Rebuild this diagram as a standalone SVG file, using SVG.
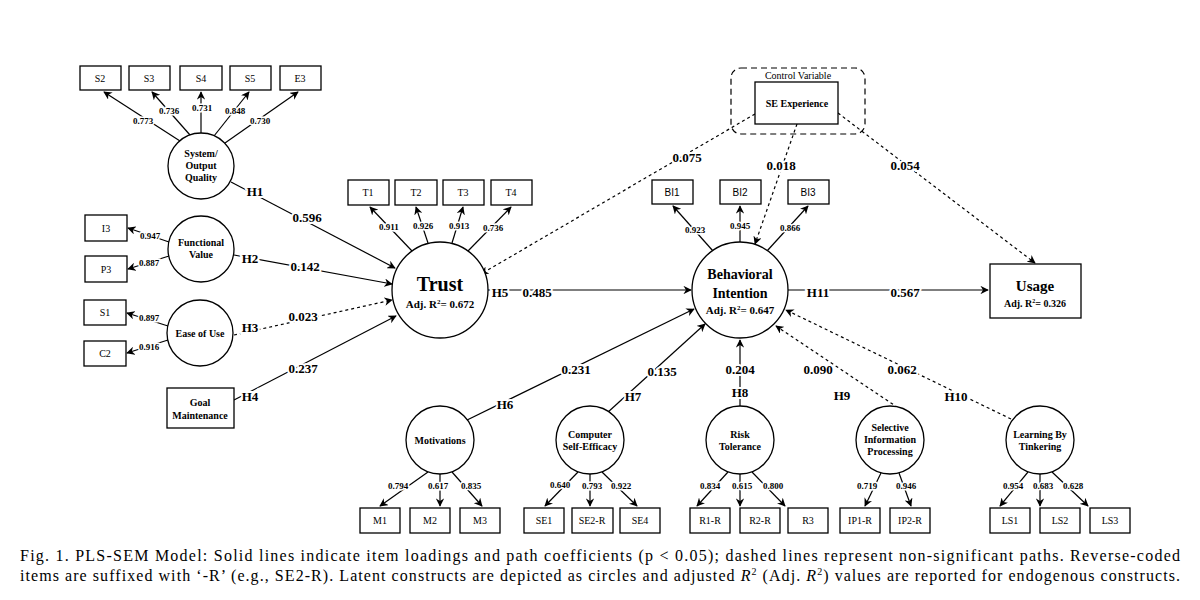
<svg xmlns="http://www.w3.org/2000/svg" width="1200" height="600" viewBox="0 0 1200 600">
<defs>
<marker id="a" viewBox="0 0 10 10" refX="9" refY="5" markerWidth="7" markerHeight="7" orient="auto"><path d="M0,0 L10,5 L0,10 L3,5 z" fill="#000"/></marker>
<style>
text{font-family:"Liberation Serif",serif;font-weight:bold;text-anchor:middle;fill:#000}
.b{fill:#fff;stroke:#000;stroke-width:1.3}
.c{fill:#fff;stroke:#000;stroke-width:1.3}
.l{stroke:#000;stroke-width:1.2;fill:none}
.d{stroke:#000;stroke-width:1.2;fill:none;stroke-dasharray:3,3}
.s{font-size:10px;font-weight:normal}
.ss{font-family:"Liberation Sans",sans-serif;font-size:10px;font-weight:normal}
.ld{font-size:9px;paint-order:stroke;stroke:#fff;stroke-width:3px}
.pl{font-size:13px;paint-order:stroke;stroke:#fff;stroke-width:4px}
.n{font-size:10px}
.cap{font-weight:normal;text-anchor:start;font-size:16px}
</style>
</defs>
<g id="connectors">
<line class="l" x1="180" y1="141" x2="104" y2="92" marker-end="url(#a)"/>
<line class="l" x1="190" y1="135" x2="152" y2="92" marker-end="url(#a)"/>
<line class="l" x1="201" y1="133" x2="201" y2="92" marker-end="url(#a)"/>
<line class="l" x1="214" y1="136" x2="249" y2="92" marker-end="url(#a)"/>
<line class="l" x1="225" y1="143" x2="298" y2="92" marker-end="url(#a)"/>
<line class="l" x1="169" y1="242" x2="128" y2="228" marker-end="url(#a)"/>
<line class="l" x1="169" y1="256" x2="128" y2="269" marker-end="url(#a)"/>
<line class="l" x1="168" y1="326" x2="127" y2="313" marker-end="url(#a)"/>
<line class="l" x1="168" y1="340" x2="127" y2="353" marker-end="url(#a)"/>
<line class="l" x1="412" y1="251" x2="370" y2="207" marker-end="url(#a)"/>
<line class="l" x1="428" y1="243" x2="416" y2="207" marker-end="url(#a)"/>
<line class="l" x1="452" y1="243" x2="463" y2="207" marker-end="url(#a)"/>
<line class="l" x1="468" y1="251" x2="511" y2="207" marker-end="url(#a)"/>
<line class="l" x1="713" y1="251" x2="673" y2="206" marker-end="url(#a)"/>
<line class="l" x1="740" y1="242" x2="740" y2="206" marker-end="url(#a)"/>
<line class="l" x1="767" y1="251" x2="808" y2="206" marker-end="url(#a)"/>
<line class="l" x1="231" y1="182" x2="395" y2="268" marker-end="url(#a)"/>
<line class="l" x1="234" y1="255" x2="392" y2="284" marker-end="url(#a)"/>
<line class="d" x1="234" y1="335" x2="392" y2="300" marker-end="url(#a)"/>
<line class="l" x1="234" y1="400" x2="396" y2="316" marker-end="url(#a)"/>
<line class="l" x1="488" y1="290" x2="691" y2="290" marker-end="url(#a)"/>
<line class="l" x1="788" y1="290" x2="988" y2="290" marker-end="url(#a)"/>
<line class="l" x1="463" y1="422" x2="694" y2="309" marker-end="url(#a)"/>
<line class="l" x1="607" y1="413" x2="705" y2="324" marker-end="url(#a)"/>
<line class="l" x1="740" y1="406" x2="740" y2="340" marker-end="url(#a)"/>
<line class="d" x1="903" y1="411" x2="776" y2="326" marker-end="url(#a)"/>
<line class="d" x1="1011" y1="419" x2="786" y2="310" marker-end="url(#a)"/>
<line class="d" x1="755" y1="114" x2="481" y2="274" marker-end="url(#a)"/>
<line class="d" x1="797" y1="124" x2="755" y2="244" marker-end="url(#a)"/>
<line class="d" x1="838" y1="113" x2="1035" y2="263" marker-end="url(#a)"/>
<line class="l" x1="428" y1="472" x2="380" y2="506" marker-end="url(#a)"/>
<line class="l" x1="440" y1="474" x2="440" y2="506" marker-end="url(#a)"/>
<line class="l" x1="452" y1="472" x2="482" y2="506" marker-end="url(#a)"/>
<line class="l" x1="578" y1="472" x2="545" y2="506" marker-end="url(#a)"/>
<line class="l" x1="590" y1="474" x2="590" y2="506" marker-end="url(#a)"/>
<line class="l" x1="602" y1="472" x2="637" y2="506" marker-end="url(#a)"/>
<line class="l" x1="728" y1="472" x2="697" y2="506" marker-end="url(#a)"/>
<line class="l" x1="740" y1="474" x2="740" y2="506" marker-end="url(#a)"/>
<line class="l" x1="752" y1="472" x2="785" y2="506" marker-end="url(#a)"/>
<line class="l" x1="881" y1="473" x2="865" y2="506" marker-end="url(#a)"/>
<line class="l" x1="899" y1="473" x2="911" y2="506" marker-end="url(#a)"/>
<line class="l" x1="1028" y1="472" x2="1000" y2="506" marker-end="url(#a)"/>
<line class="l" x1="1040" y1="474" x2="1040" y2="506" marker-end="url(#a)"/>
<line class="l" x1="1052" y1="472" x2="1088" y2="506" marker-end="url(#a)"/>
<text class="ld" x="143" y="124">0.773</text>
<text class="ld" x="169" y="114">0.736</text>
<text class="ld" x="202" y="111">0.731</text>
<text class="ld" x="235" y="114">0.848</text>
<text class="ld" x="260" y="124">0.730</text>
<text class="ld" x="150" y="239">0.947</text>
<text class="ld" x="149" y="266">0.887</text>
<text class="ld" x="149" y="321">0.897</text>
<text class="ld" x="149" y="350">0.916</text>
<text class="ld" x="389" y="230">0.911</text>
<text class="ld" x="423" y="229">0.926</text>
<text class="ld" x="459" y="229">0.913</text>
<text class="ld" x="493" y="231">0.736</text>
<text class="ld" x="695" y="233">0.923</text>
<text class="ld" x="740" y="229">0.945</text>
<text class="ld" x="790" y="231">0.866</text>
<text class="ld" x="398" y="489">0.794</text>
<text class="ld" x="438" y="489">0.617</text>
<text class="ld" x="471" y="489">0.835</text>
<text class="ld" x="560" y="488">0.640</text>
<text class="ld" x="592" y="489">0.793</text>
<text class="ld" x="621" y="489">0.922</text>
<text class="ld" x="710" y="489">0.834</text>
<text class="ld" x="742" y="489">0.615</text>
<text class="ld" x="773" y="489">0.800</text>
<text class="ld" x="867" y="489">0.719</text>
<text class="ld" x="906" y="489">0.946</text>
<text class="ld" x="1013" y="489">0.954</text>
<text class="ld" x="1043" y="489">0.683</text>
<text class="ld" x="1073" y="489">0.628</text>
<text class="pl" x="255" y="196">H1</text>
<text class="pl" x="307" y="222">0.596</text>
<text class="pl" x="250" y="263">H2</text>
<text class="pl" x="305" y="271">0.142</text>
<text class="pl" x="250" y="332">H3</text>
<text class="pl" x="303" y="321">0.023</text>
<text class="pl" x="250" y="401">H4</text>
<text class="pl" x="303" y="373">0.237</text>
<text class="pl" x="500" y="297">H5</text>
<text class="pl" x="537" y="297">0.485</text>
<text class="pl" x="818" y="297">H11</text>
<text class="pl" x="905" y="297">0.567</text>
<text class="pl" x="505" y="409">H6</text>
<text class="pl" x="576" y="374">0.231</text>
<text class="pl" x="633" y="401">H7</text>
<text class="pl" x="662" y="376">0.135</text>
<text class="pl" x="740" y="397">H8</text>
<text class="pl" x="740" y="374">0.204</text>
<text class="pl" x="842" y="400">H9</text>
<text class="pl" x="818" y="374">0.090</text>
<text class="pl" x="956" y="401">H10</text>
<text class="pl" x="902" y="374">0.062</text>
<text class="pl" x="687" y="162">0.075</text>
<text class="pl" x="781" y="170">0.018</text>
<text class="pl" x="905" y="170">0.054</text>
</g>
<g id="control">
<rect x="731" y="68" width="134" height="66" rx="10" fill="none" stroke="#000" stroke-width="1.2" stroke-dasharray="6,4"/>
<text class="s" x="798" y="79">Control Variable</text>
</g>
<g id="se-exp"><rect class="b" x="755" y="82" width="83" height="42"/><text class="n" x="797" y="107">SE Experience</text></g>
<g id="s2"><rect class="b" x="80" y="66" width="41" height="24"/><text class="s" x="100" y="82">S2</text></g>
<g id="s3"><rect class="b" x="129" y="66" width="41" height="24"/><text class="s" x="149" y="82">S3</text></g>
<g id="s4"><rect class="b" x="180" y="66" width="42" height="24"/><text class="s" x="201" y="82">S4</text></g>
<g id="s5"><rect class="b" x="230" y="66" width="41" height="24"/><text class="s" x="250" y="82">S5</text></g>
<g id="e3"><rect class="b" x="280" y="66" width="41" height="24"/><text class="s" x="300" y="82">E3</text></g>
<g id="sys"><circle class="c" cx="201" cy="166" r="33"/><text class="n" x="201" y="157">System/</text><text class="n" x="201" y="169">Output</text><text class="n" x="201" y="181">Quality</text></g>
<g id="i3"><rect class="b" x="85" y="215" width="42" height="26"/><text class="s" x="106" y="232">I3</text></g>
<g id="p3"><rect class="b" x="85" y="256" width="42" height="26"/><text class="s" x="106" y="273">P3</text></g>
<g id="fv"><circle class="c" cx="201" cy="249" r="33"/><text class="n" x="201" y="246">Functional</text><text class="n" x="201" y="258">Value</text></g>
<g id="s1"><rect class="b" x="84" y="300" width="42" height="25"/><text class="s" x="105" y="316">S1</text></g>
<g id="c2"><rect class="b" x="84" y="341" width="42" height="25"/><text class="s" x="105" y="357">C2</text></g>
<g id="eou"><circle class="c" cx="200" cy="333" r="33"/><text class="n" x="200" y="337">Ease of Use</text></g>
<g id="goal"><rect class="b" x="167" y="388" width="67" height="40"/><text class="n" x="200" y="406">Goal</text><text class="n" x="200" y="419">Maintenance</text></g>
<g id="t1"><rect class="b" x="348" y="180" width="41" height="25"/><text class="s" x="368" y="196">T1</text></g>
<g id="t2"><rect class="b" x="395" y="180" width="42" height="25"/><text class="s" x="416" y="196">T2</text></g>
<g id="t3"><rect class="b" x="443" y="180" width="41" height="25"/><text class="s" x="463" y="196">T3</text></g>
<g id="t4"><rect class="b" x="491" y="180" width="41" height="25"/><text class="s" x="511" y="196">T4</text></g>
<g id="trust"><circle class="c" cx="440" cy="290" r="48"/><text x="440" y="291" font-size="20">Trust</text><text x="440" y="308" font-size="11">Adj. R<tspan font-size="7" dy="-4">2</tspan><tspan dy="4">= 0.672</tspan></text></g>
<g id="bi1"><rect class="b" x="652" y="180" width="41" height="24"/><text class="ss" x="672" y="196">BI1</text></g>
<g id="bi2"><rect class="b" x="720" y="180" width="41" height="24"/><text class="ss" x="740" y="196">BI2</text></g>
<g id="bi3"><rect class="b" x="788" y="180" width="41" height="24"/><text class="ss" x="808" y="196">BI3</text></g>
<g id="bi"><circle class="c" cx="740" cy="290" r="48"/><text x="740" y="279" font-size="14">Behavioral</text><text x="740" y="298" font-size="14">Intention</text><text x="740" y="314" font-size="11">Adj. R<tspan font-size="7" dy="-4">2</tspan><tspan dy="4">= 0.647</tspan></text></g>
<g id="usage"><rect class="b" x="990" y="264" width="91" height="54"/><text x="1035" y="291" font-size="15">Usage</text><text x="1035" y="307" font-size="10">Adj. R<tspan font-size="6" dy="-4">2</tspan><tspan dy="4">= 0.326</tspan></text></g>
<g id="mot"><circle class="c" cx="440" cy="440" r="34"/><text class="n" x="440" y="444">Motivations</text></g>
<g id="cse"><circle class="c" cx="590" cy="440" r="34"/><text class="n" x="590" y="438">Computer</text><text class="n" x="590" y="450">Self-Efficacy</text></g>
<g id="risk"><circle class="c" cx="740" cy="440" r="34"/><text class="n" x="740" y="438">Risk</text><text class="n" x="740" y="450">Tolerance</text></g>
<g id="sip"><circle class="c" cx="890" cy="440" r="34"/><text class="n" x="890" y="431">Selective</text><text class="n" x="890" y="443">Information</text><text class="n" x="890" y="455">Processing</text></g>
<g id="lbt"><circle class="c" cx="1040" cy="440" r="34"/><text class="n" x="1040" y="438">Learning By</text><text class="n" x="1040" y="450">Tinkering</text></g>
<g id="m1"><rect class="b" x="360" y="508" width="40" height="25"/><text class="s" x="380" y="524">M1</text></g>
<g id="m2"><rect class="b" x="410" y="508" width="40" height="25"/><text class="s" x="430" y="524">M2</text></g>
<g id="m3"><rect class="b" x="460" y="508" width="40" height="25"/><text class="s" x="480" y="524">M3</text></g>
<g id="se1"><rect class="b" x="524" y="508" width="40" height="25"/><text class="s" x="544" y="524">SE1</text></g>
<g id="se2"><rect class="b" x="572" y="508" width="41" height="25"/><text class="s" x="592" y="524">SE2-R</text></g>
<g id="se4"><rect class="b" x="620" y="508" width="40" height="25"/><text class="s" x="640" y="524">SE4</text></g>
<g id="r1"><rect class="b" x="690" y="508" width="40" height="25"/><text class="s" x="710" y="524">R1-R</text></g>
<g id="r2"><rect class="b" x="740" y="508" width="40" height="25"/><text class="s" x="760" y="524">R2-R</text></g>
<g id="r3"><rect class="b" x="788" y="508" width="40" height="25"/><text class="s" x="808" y="524">R3</text></g>
<g id="ip1"><rect class="b" x="840" y="508" width="40" height="25"/><text class="s" x="860" y="524">IP1-R</text></g>
<g id="ip2"><rect class="b" x="890" y="508" width="40" height="25"/><text class="s" x="910" y="524">IP2-R</text></g>
<g id="ls1"><rect class="b" x="990" y="508" width="40" height="25"/><text class="s" x="1010" y="524">LS1</text></g>
<g id="ls2"><rect class="b" x="1040" y="508" width="40" height="25"/><text class="s" x="1060" y="524">LS2</text></g>
<g id="ls3"><rect class="b" x="1090" y="508" width="40" height="25"/><text class="s" x="1110" y="524">LS3</text></g>
<g id="caption">
<text class="cap" x="20" y="561" textLength="1160" lengthAdjust="spacing">Fig. 1.  PLS-SEM Model: Solid lines indicate item loadings and path coefficients (p &lt; 0.05); dashed lines represent non-significant paths. Reverse-coded</text>
<text class="cap" x="20" y="581" textLength="1160" lengthAdjust="spacing">items are suffixed with ‘-R’ (e.g., SE2-R). Latent constructs are depicted as circles and adjusted <tspan font-style="italic">R</tspan><tspan font-size="10" dy="-6">2</tspan><tspan dy="6"> (Adj. </tspan><tspan font-style="italic">R</tspan><tspan font-size="10" dy="-6">2</tspan><tspan dy="6">) values are reported for endogenous constructs.</tspan></text>
</g>
</svg>
